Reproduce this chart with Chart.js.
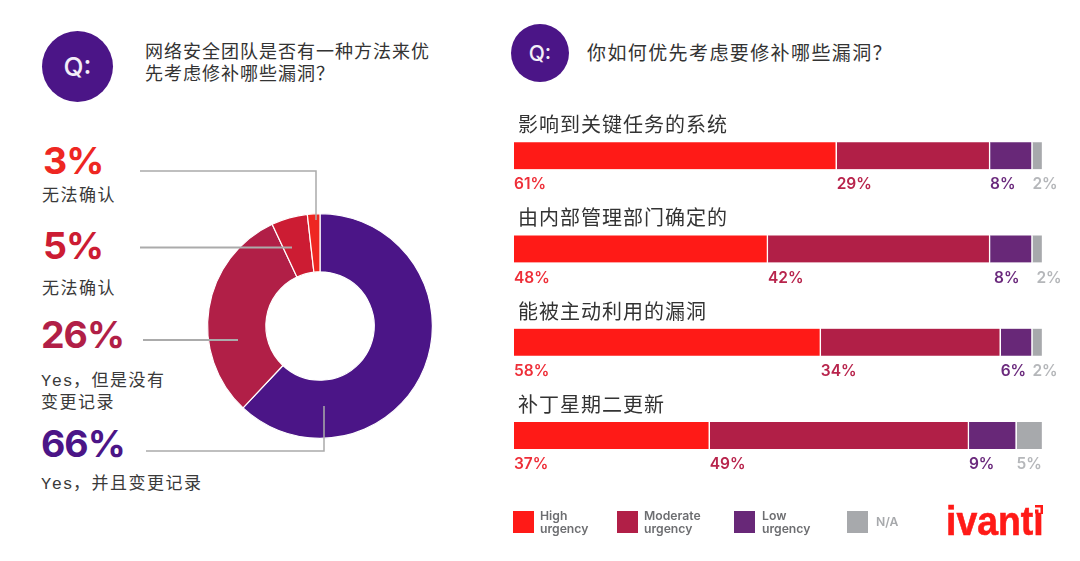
<!DOCTYPE html>
<html lang="zh"><head><meta charset="utf-8">
<script src="https://cdn.jsdelivr.net/npm/chart.js@4"></script>
<style>
html,body{margin:0;padding:0;background:#fff;width:1080px;height:561px;overflow:hidden}
body{position:relative;font-family:"Noto Sans CJK SC",sans-serif;color:#333}
.t{position:absolute;white-space:nowrap;line-height:1}
.q{position:absolute;border-radius:50%;background:#4b1587;color:#f3eef8;display:flex;align-items:center;justify-content:center;font-family:Inter,sans-serif;font-weight:500}
.big{font-family:Inter,sans-serif;font-weight:700;font-size:37.5px;letter-spacing:-1px}
.lab{font-size:17px;letter-spacing:1.5px;color:#3a3a3a}
.lab b{font-family:"Liberation Mono",monospace;font-weight:400;letter-spacing:.5px}
.sw{position:absolute;width:21px;height:22px;top:511px}
.lg{position:absolute;top:510px;font:600 12.2px/12.5px Inter,sans-serif;color:#6d6e71}
canvas{position:absolute}
svg{position:absolute;left:0;top:0}
</style></head><body>
<div class="q" style="left:42px;top:31px;width:71px;height:71px;font-size:26px">Q:</div>
<div class="q" style="left:511px;top:24px;width:58px;height:58px;font-size:21px">Q:</div>
<div class="t" style="left:145px;top:41px;font-size:18px;letter-spacing:1px">网络安全团队是否有一种方法来优</div>
<div class="t" style="left:145px;top:63px;font-size:18px;letter-spacing:1px">先考虑修补哪些漏洞？</div>
<div class="t" style="left:587px;top:42px;font-size:19px;letter-spacing:1.4px">你如何优先考虑要修补哪些漏洞？</div>

<div class="t big" style="left:43px;top:142px;color:#ee2722">3%</div>
<div class="t lab" style="left:42px;top:185px">无法确认</div>
<div class="t big" style="left:43px;top:227px;color:#cc1c33">5%</div>
<div class="t lab" style="left:42px;top:278px">无法确认</div>
<div class="t big" style="left:41px;top:316px;color:#b11f47">26%</div>
<div class="t lab" style="left:41px;top:370px"><b>Yes</b>，但是没有</div>
<div class="t lab" style="left:41px;top:392px">变更记录</div>
<div class="t big" style="left:41px;top:425px;color:#4b1587">66%</div>
<div class="t lab" style="left:41px;top:473px"><b>Yes</b>，并且变更记录</div>

<canvas id="donut" width="240" height="240" style="left:200px;top:206px;width:240px;height:240px"></canvas>
<canvas id="bars" width="570" height="373" style="left:500px;top:109px;width:570px;height:373px"></canvas>

<svg width="1080" height="561" fill="none" stroke="#ababab" stroke-width="1.5">
<path d="M140 171H316V220"/><path d="M140 247.5H292" stroke-width="2"/><path d="M143 340H238" stroke-width="2"/><path d="M146 451H324V406"/>
</svg>

<div class="sw" style="left:513px;background:#ff1a17"></div><div class="lg" style="left:540px">High<br>urgency</div>
<div class="sw" style="left:617px;background:#b11f47"></div><div class="lg" style="left:644px">Moderate<br>urgency</div>
<div class="sw" style="left:734px;background:#682878"></div><div class="lg" style="left:762px">Low<br>urgency</div>
<div class="sw" style="left:847px;background:#a7a9ac"></div><div class="lg" style="left:876px;top:516px;color:#a7a9ac">N/A</div>

<div class="t" style="left:946px;top:501px;font:700 40px/1 'Liberation Sans',sans-serif;color:#ff1a17;-webkit-text-stroke:.6px #ff1a17;transform:scaleX(.935);transform-origin:left">ivantı</div>
<svg width="1080" height="561" fill="#ff1a17" stroke="none"><path d="M1035 505h8v9h-2.5v-6.5H1035z"/><rect x="1035" y="509.5" width="3.5" height="4"/></svg>

<script>
// Values as labelled in the reference
const barCategories = ["影响到关键任务的系统","由内部管理部门确定的","能被主动利用的漏洞","补丁星期二更新"];
const highUrgency = [61,48,58,37];
const moderateUrgency = [29,42,34,49];
const lowUrgency = [8,8,6,9];
const notApplicable = [2,2,2,5];
const seriesNames = ["High urgency","Moderate urgency","Low urgency","N/A"];
const barColors = ["#ff1a17","#b11f47","#682878","#a7a9ac"];
const labelColors = ["#ee2e38","#b8244c","#6b2a7d","#b5b7ba"];

// Doughnut: the drawn arc sizes (they differ from its printed percentages)
const donutNames = ["Yes，并且变更记录","Yes，但是没有变更记录","无法确认","无法确认"];
const donutArcShares = [62,31,5.2,1.8];
const donutColors = ["#4b1587","#b11f47","#cc1c33","#ee2722"];

new Chart(document.getElementById("donut"),{
  type:"doughnut",
  data:{labels:donutNames,datasets:[{data:donutArcShares,backgroundColor:donutColors,borderColor:"#fff",borderWidth:1.2}]},
  options:{responsive:false,animation:false,cutout:"48.2%",layout:{padding:7},
    plugins:{legend:{display:false},tooltip:{enabled:false}}}
});

const barText = {
  id:"barText",
  afterDatasetsDraw(chart){
    const c = chart.ctx, y = chart.scales.y;
    c.save();
    c.textBaseline = "middle";
    barCategories.forEach((name,i)=>{
      const cy = y.getPixelForValue(i);
      c.font = '20px "Noto Sans CJK SC"';
      c.letterSpacing = "1px";
      c.fillStyle = "#333";
      c.textAlign = "left";
      c.fillText(name, chart.chartArea.left+4, cy-31);
      c.letterSpacing = "0px";
      c.font = '600 15.5px Inter';
      chart.data.datasets.forEach((ds,k)=>{
        const bar = chart.getDatasetMeta(k).data[i];
        const start = bar.base;
        const nudge = (i===1 && k>=2) ? 4 : 0;
        c.fillStyle = labelColors[k];
        c.fillText(ds.data[i]+"%", start+nudge, cy+29);
      });
    });
    c.restore();
  }
};

new Chart(document.getElementById("bars"),{
  type:"bar",
  data:{labels:barCategories,datasets:[highUrgency,moderateUrgency,lowUrgency,notApplicable].map((d,k)=>({
    label:seriesNames[k],data:d,backgroundColor:barColors[k],borderColor:"#fff",borderWidth:{left:0,right:1.5,top:0,bottom:0},barThickness:27
  }))},
  options:{indexAxis:"y",responsive:false,animation:false,
    layout:{padding:{left:14,right:27,top:0,bottom:0}},
    scales:{x:{stacked:true,min:0,max:100,display:false},y:{stacked:true,display:false}},
    plugins:{legend:{display:false},tooltip:{enabled:false}}},
  plugins:[barText]
});
</script>
</body></html>
